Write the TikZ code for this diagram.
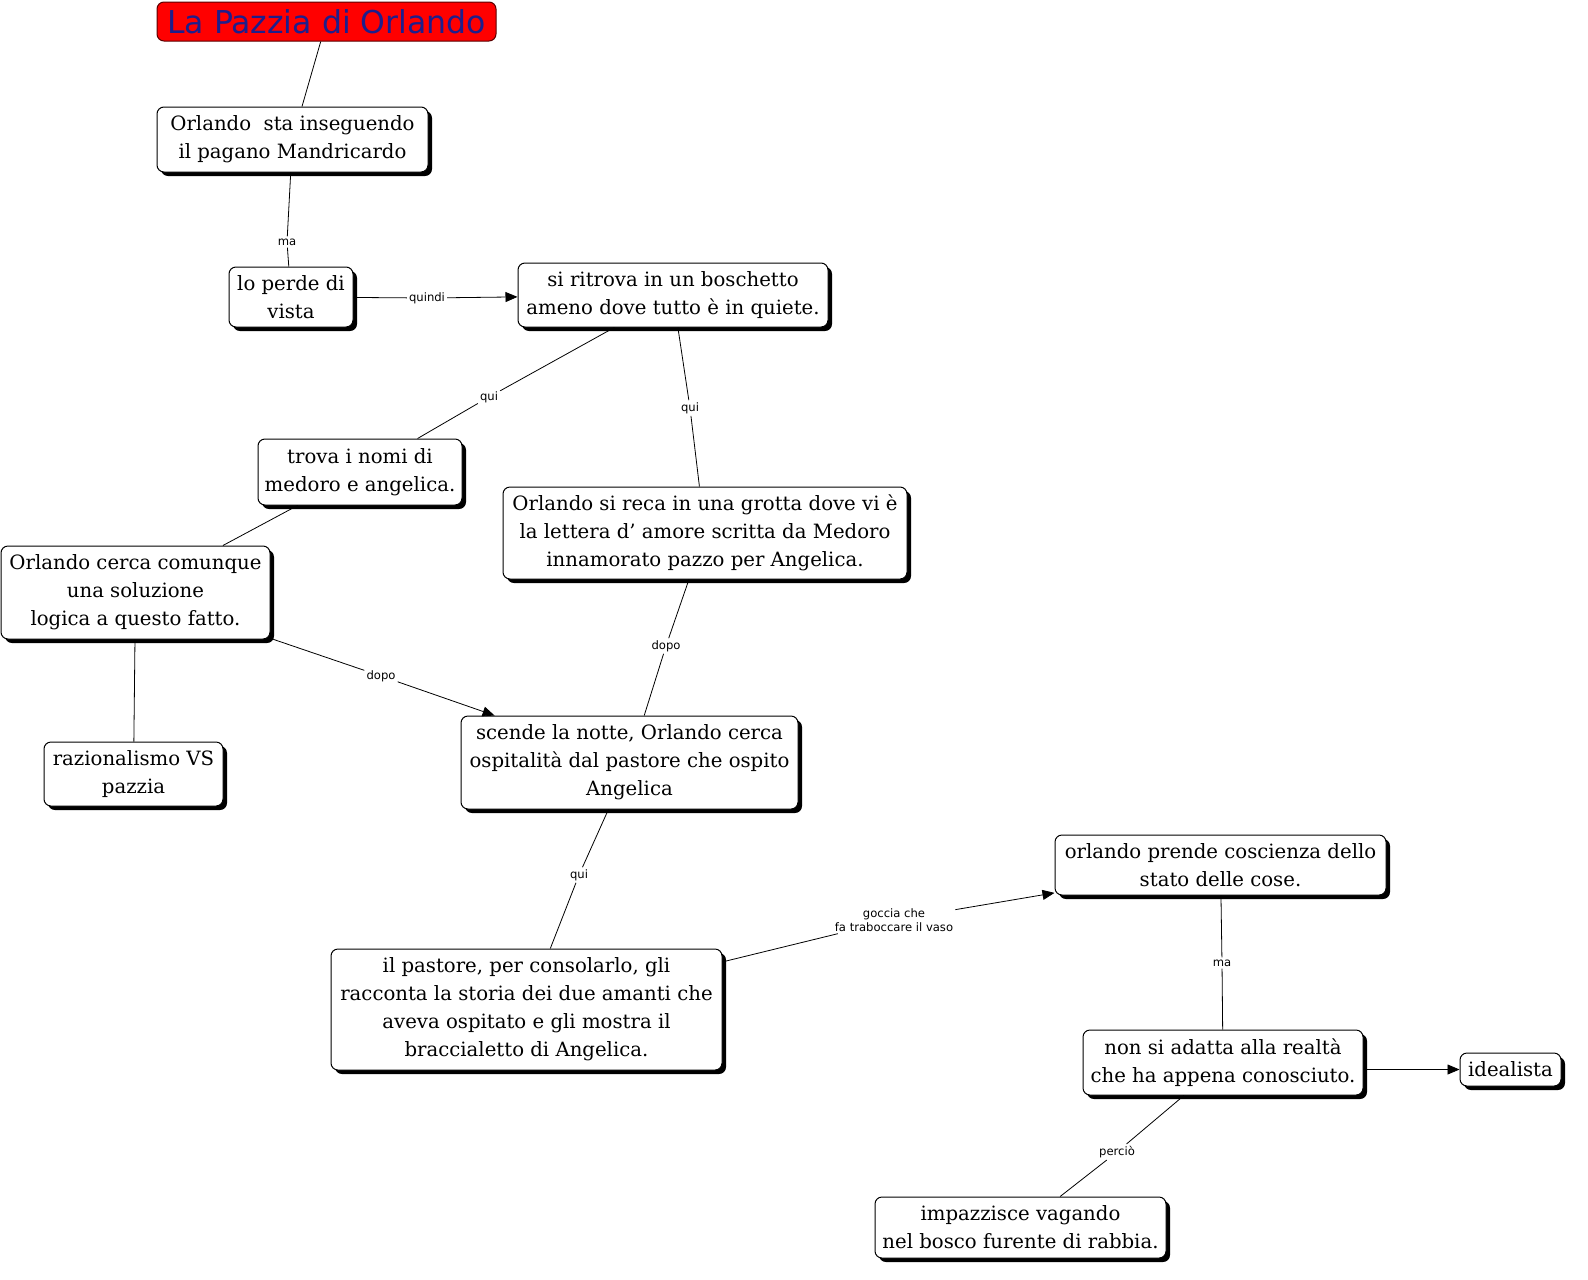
\documentclass[tikz,border=0pt]{standalone}
\usepackage{fontspec}
\setmainfont{DejaVu Serif}
\newfontfamily\linkfont{DejaVu Sans}
\usetikzlibrary{shadows,arrows.meta}
\definecolor{titleblue}{RGB}{30,30,140}
\definecolor{titlered}{RGB}{255,0,0}
\definecolor{titleedge}{RGB}{90,0,0}

\begin{document}
\begin{tikzpicture}[x=1pt,y=-1pt,>={Triangle[length=12pt,width=10pt]},line join=round,
	box/.style={draw,line width=1pt,rounded corners=7pt,fill=white,align=center,inner sep=3pt,
		font=\fontsize{19.7}{28}\selectfont,
		drop shadow={shadow xshift=4pt,shadow yshift=-4pt,fill=black,opacity=1}},
	lbl/.style={font=\linkfont\fontsize{11.6}{14}\selectfont,inner sep=2pt,align=center},
	link/.style={line width=0.8pt}]
		\useasboundingbox (0,0) rectangle (1588,1280);
		
		\node[draw=titleedge,line width=1pt,rounded corners=7pt,fill=titlered,text=titleblue,
			font=\linkfont\fontsize{31.5}{32}\selectfont,minimum width=339pt,minimum height=39pt,inner sep=1pt]
			(title) at (326.5,21.5) {La Pazzia di Orlando};
		
		\node[box,minimum width=271pt,minimum height=65pt] (chase) at (292.5,139.5) {Orlando~ sta inseguendo\\il pagano Mandricardo};
		\node[box,minimum width=124pt,minimum height=60pt] (lost) at (291,297) {lo perde di\\vista};
		\node[box,minimum width=310pt,minimum height=64pt] (wood) at (673,295) {si ritrova in un boschetto\\ameno dove tutto è in quiete.};
		\node[box,minimum width=204pt,minimum height=66pt] (names) at (360,472) {trova i nomi di\\medoro e angelica.};
		\node[box,minimum width=404pt,minimum height=92pt] (cave) at (705,533) {Orlando si reca in una grotta dove vi è\\la lettera d{\char"27} amore scritta da Medoro\\innamorato pazzo per Angelica.};
		\node[box,minimum width=269pt,minimum height=93pt] (logic) at (135.5,592.5) {Orlando cerca comunque\\una soluzione\\logica a questo fatto.};
		\node[box,minimum width=179pt,minimum height=64pt] (reason) at (133.5,774) {razionalismo VS\\pazzia};
		\node[box,minimum width=337pt,minimum height=93pt] (night) at (629.5,762.5) {scende la notte, Orlando cerca\\ospitalità dal pastore che ospito\\Angelica};
		\node[box,minimum width=391pt,minimum height=121pt] (shepherd) at (526.5,1009.5) {il pastore, per consolarlo, gli\\racconta la storia dei due amanti che\\aveva ospitato e gli mostra il\\braccialetto di Angelica.};
		\node[box,minimum width=331pt,minimum height=60pt] (aware) at (1220.5,865) {orlando prende coscienza dello\\stato delle cose.};
		\node[box,minimum width=280pt,minimum height=65pt] (adapt) at (1223,1062.5) {non si adatta alla realtà\\che ha appena conosciuto.};
		\node[box,minimum width=101pt,minimum height=33pt] (ideal) at (1510.5,1069.5) {idealista};
		\node[box,minimum width=291pt,minimum height=61pt] (mad) at (1020.5,1227.5) {impazzisce vagando\\nel bosco furente di rabbia.};
		
		% link labels
		\node[lbl] (ma1) at (287,242) {ma};
		\node[lbl] (so) at (427,298) {quindi};
		\node[lbl] (here1) at (489,397) {qui};
		\node[lbl] (here2) at (690,408) {qui};
		\node[lbl] (after1) at (381,676) {dopo};
		\node[lbl] (after2) at (666,646) {dopo};
		\node[lbl] (here3) at (579,875) {qui};
		\node[lbl] (drop) at (894,920) {goccia che\\fa traboccare il vaso};
		\node[lbl] (ma2) at (1222,963) {ma};
		\node[lbl] (hence) at (1117,1152) {perciò};
		
		\draw[link] (title) -- (chase);
		\draw[link] (chase) -- (ma1) -- (lost);
		\draw[link,->] (lost) -- (so) -- (wood);
		\draw[link] (wood) -- (here1) -- (names);
		\draw[link] (wood) -- (here2) -- (cave);
		\draw[link] (names) -- (logic);
		\draw[link] (logic) -- (reason);
		\draw[link,->] (logic) -- (after1) -- (night);
		\draw[link] (cave) -- (after2) -- (night);
		\draw[link] (night) -- (here3) -- (shepherd);
		\draw[link,->] (shepherd) -- (drop) -- (aware);
		\draw[link] (aware) -- (ma2) -- (adapt);
		\draw[link,->] (adapt.east |- ideal.west) -- (ideal.west);
		\draw[link] (adapt) -- (hence) -- (mad);
\end{tikzpicture}
\end{document}
